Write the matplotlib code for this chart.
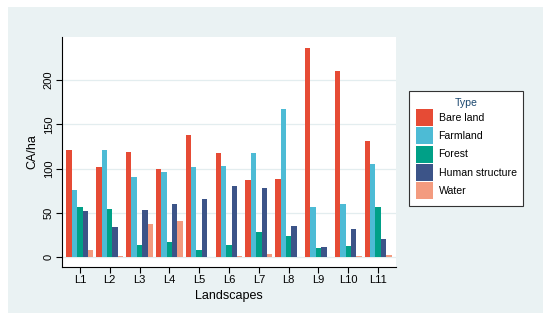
import numpy as np
import matplotlib.pyplot as plt
from matplotlib.patches import Rectangle

plt.rcParams['font.family'] = ['Liberation Sans', 'DejaVu Sans']

landscapes = ['L1', 'L2', 'L3', 'L4', 'L5', 'L6', 'L7', 'L8', 'L9', 'L10', 'L11']
types = ['Bare land', 'Farmland', 'Forest', 'Human structure', 'Water']
bare_land = [120.5, 101.3, 119.0, 99.4, 137.5, 117.5, 87.4, 87.8, 236.2, 209.8, 131.5]
farmland = [75.3, 121.3, 90.0, 95.7, 101.7, 103.2, 117.1, 166.9, 56.1, 59.9, 104.7]
forest = [56.9, 54.6, 13.9, 17.3, 8.3, 13.2, 27.9, 24.1, 9.8, 12.4, 56.1]
human_structure = [52.4, 34.3, 53.5, 60.3, 65.9, 79.8, 77.6, 35.4, 11.3, 31.6, 20.7]
water = [7.5, 1.0, 36.9, 40.7, 0.3, 0.8, 3.0, 0.3, 0.2, 0.8, 1.9]
colors = ['#e64b35', '#4dbbd5', '#00a087', '#3c5488', '#f39b7f']

series = [bare_land, farmland, forest, human_structure, water]

W, H = 550, 321
fig = plt.figure(figsize=(5.5, 3.21), dpi=100, facecolor='white')
# light panel behind everything
fig.patches.append(Rectangle((8 / W, 1 - 313 / H), 535 / W, 306 / H,
                             transform=fig.transFigure, facecolor='#eaf2f3',
                             edgecolor='none', zorder=-10))

ax = fig.add_axes([62 / W, 1 - 267 / H, (396 - 62) / W, (267 - 37) / H])
ax.set_facecolor('white')

x = np.arange(1, len(landscapes) + 1)
bw = 0.18
for i, (vals, c, name) in enumerate(zip(series, colors, types)):
    ax.bar(x + (i - 2) * bw, vals, width=bw, color=c, label=name, zorder=3)

ax.set_xlim(0.4, 11.6)
ax.set_ylim(-11.3, 248.6)
ax.set_yticks([0, 50, 100, 150, 200])
ax.set_xticks(x)
ax.set_xticklabels(landscapes)
ax.grid(axis='y', color='#e3edef', linewidth=0.9, zorder=0)
ax.tick_params(axis='y', labelrotation=90, labelsize=8, length=4, pad=2)
ax.tick_params(axis='x', labelsize=8, length=4, pad=2)
for lab in ax.get_yticklabels():
    lab.set_va('center')
ax.spines['top'].set_visible(False)
ax.spines['right'].set_visible(False)
ax.set_ylabel('CA/ha', fontsize=9, labelpad=4)
ax.set_xlabel('Landscapes', fontsize=9, labelpad=3)

leg = ax.legend(loc='upper left', bbox_to_anchor=(409 / W, 1 - 91 / H),
                bbox_transform=fig.transFigure, borderaxespad=0,
                title='Type', fontsize=7.6, title_fontsize=7.6,
                handlelength=1.6, handleheight=2.1, labelspacing=0.12,
                handletextpad=0.55, borderpad=0.65, fancybox=False,
                framealpha=1, edgecolor='#333333')
leg.get_title().set_color('#1a476f')
leg.get_frame().set_linewidth(0.8)

fig.savefig('out.png', dpi=100, facecolor='white')
